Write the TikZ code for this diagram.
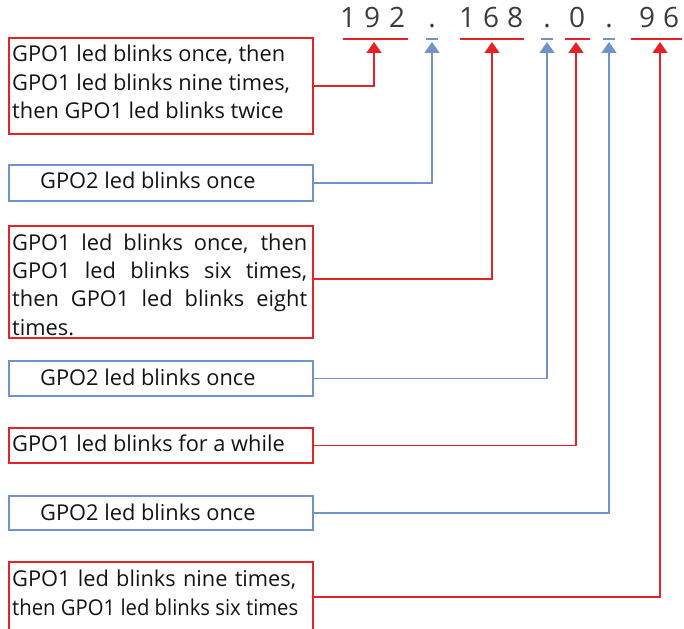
\documentclass[tikz,border=0pt]{standalone}
\usepackage{graphicx}
\usepackage{fontspec}
\setmainfont{Open Sans}
\usetikzlibrary{arrows.meta}
\definecolor{lred}{RGB}{232,32,40}
\definecolor{lblue}{RGB}{114,146,206}
\definecolor{digitgray}{RGB}{60,60,60}
\definecolor{txtcol}{RGB}{20,20,20}
\begin{document}
\begin{tikzpicture}[x=1pt,y=-1pt,
  redbox/.style={draw=lred, line width=1.6pt, rectangle, inner sep=0pt, anchor=north west, minimum width=304pt},
  bluebox/.style={draw=lblue, line width=1.6pt, rectangle, inner sep=0pt, anchor=north west, minimum width=304pt},
  txt/.style={anchor=base west, inner sep=0pt, text=txtcol, font=\fontsize{21.8}{28.3}\selectfont, align=left},
  digit/.style={anchor=base, inner sep=0pt, text=digitgray, font=\fontsize{28}{30}\selectfont},
  redline/.style={draw=lred, line width=1.6pt},
  blueline/.style={draw=lblue, line width=1.6pt},
  tip/.style={-{Triangle[width=15pt,length=11pt]}}
]
\clip (0,0) rectangle (684,628);
% digits
\node[digit] (d1) at (348,28) {1};
\node[digit] (d2) at (372,28) {9};
\node[digit] (d3) at (397,28) {2};
\node[digit] (d4) at (432,28) {.};
\node[digit] (d5) at (467,28) {1};
\node[digit] (d6) at (491,28) {6};
\node[digit] (d7) at (515,28) {8};
\node[digit] (d8) at (547,28) {.};
\node[digit] (d9) at (577,28) {0};
\node[digit] (d10) at (609,28) {.};
\node[digit] (d11) at (647,28) {9};
\node[digit] (d12) at (671,28) {6};
% underlines
\coordinate (u1a) at (343,39); \coordinate (u1b) at (408,39);
\coordinate (u2a) at (426,39); \coordinate (u2b) at (438,39);
\coordinate (u3a) at (460,39); \coordinate (u3b) at (524,39);
\coordinate (u4a) at (541,39); \coordinate (u4b) at (553,39);
\coordinate (u5a) at (565,39); \coordinate (u5b) at (590,39);
\coordinate (u6a) at (603,39); \coordinate (u6b) at (615,39);
\coordinate (u7a) at (631,39); \coordinate (u7b) at (682,39);
\draw[redline] (u1a) -- (u1b);
\draw[blueline] (u2a) -- (u2b);
\draw[redline] (u3a) -- (u3b);
\draw[blueline] (u4a) -- (u4b);
\draw[redline] (u5a) -- (u5b);
\draw[blueline] (u6a) -- (u6b);
\draw[redline] (u7a) -- (u7b);
% arrow tips
\coordinate (a1) at (374,42);
\coordinate (a2) at (432,42);
\coordinate (a3) at (492,42);
\coordinate (a4) at (547,42);
\coordinate (a5) at (576,42);
\coordinate (a6) at (609,42);
\coordinate (a7) at (660,42);
% boxes
\node[redbox, minimum height=96pt] (b1) at (8,37) {};
\node[bluebox, minimum height=36pt] (b2) at (8,164) {};
\node[redbox, minimum height=112pt] (b3) at (8,225) {};
\node[bluebox, minimum height=35pt] (b4) at (8,360) {};
\node[redbox, minimum height=35pt] (b5) at (8,427) {};
\node[bluebox, minimum height=34pt] (b6) at (8,495) {};
\node[redbox, minimum height=70pt] (b7) at (8,561) {};
% texts (anchor at baseline of last line)
\node[txt] (t1) at (12,118.6) {GPO1 led blinks once, then\\GPO1 led blinks nine times,\\then GPO1 led blinks twice};
\node[txt] (t2) at (40,189) {GPO2 led blinks once};
\node[txt] (t3) at (12,335) {\makebox[295pt][s]{GPO1 led blinks once, then}\\\makebox[295pt][s]{GPO1 led blinks six times,}\\\makebox[295pt][s]{then GPO1 led blinks eight}\\times.};
\node[txt] (t4) at (40,385) {GPO2 led blinks once};
\node[txt] (t5) at (12,451) {GPO1 led blinks for a while};
\node[txt] (t6) at (40,520) {GPO2 led blinks once};
\node[txt] (t7) at (12,615) {\makebox[284pt][s]{GPO1 led blinks nine times,}\\\scalebox{0.93}[1]{then GPO1 led blinks six times}};
% connectors
\draw[redline, tip] (b1.east) -| (a1);
\draw[blueline, tip] (b2.east) -| (a2);
\draw[redline, tip] ([yshift=3pt]b3.east) -| (a3);
\draw[blueline, tip] (b4.east) -| (a4);
\draw[redline, tip] (b5.east) -| (a5);
\draw[blueline, tip] (b6.east) -| (a6);
\draw[redline, tip] (b7.east) -| (a7);
\end{tikzpicture}
\end{document}
